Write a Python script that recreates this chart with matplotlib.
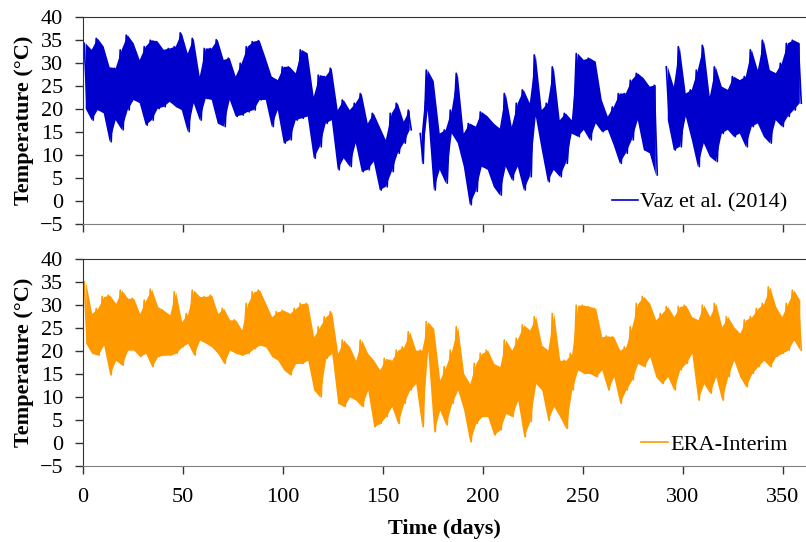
import numpy as np
import matplotlib
matplotlib.use('Agg')
import matplotlib.pyplot as plt

plt.rcParams['font.family'] = ['Liberation Serif', 'DejaVu Serif']

# blocos de 3 dias: maxima e minima (°C)
bloco_dias = 3

vaz_max = [34.2, 32.8, 35.3, 33.5, 29.0, 28.8, 32.8, 36.0, 34.2, 30.6,
           33.5, 34.9, 34.6, 32.8, 33.1, 33.5, 36.5, 32.0, 35.3, 27.0,
           33.1, 33.1, 35.0, 30.6, 31.0, 27.0, 29.9, 33.5, 34.6, 34.8,
           31.0, 27.0, 26.2, 29.1, 29.1, 27.7, 32.8, 32.0, 22.6, 27.3,
           27.0, 28.8, 19.7, 21.9, 19.7, 21.2, 23.3, 16.8, 19.0, 16.1,
           13.2, 19.0, 21.2, 17.2, 19.7, np.nan, 14.6, 28.4, 26.0, 14.6,
           15.4, 19.7, 27.7, 14.6, 16.8, 16.1, 19.3, 18.3, 16.8, 15.7,
           23.3, 16.1, 21.2, 24.1, 21.2, 31.7, 19.7, 21.2, 29.1, 17.5,
           19.0, 17.5, 32.0, 30.6, 31.0, 30.2, 21.9, 18.3, 20.4, 23.3,
           23.3, 26.2, 27.7, 26.6, 24.8, 25.1, np.nan, 29.1, 24.8, 33.5,
           23.3, 24.1, 28.4, 33.8, 22.6, 29.1, 24.8, 24.1, 27.0, 26.2,
           27.0, 32.8, 28.4, 34.9, 28.4, 27.7, 29.9, 34.2, 34.9, 34.2]
vaz_min = [20.0, 17.5, 19.7, 19.0, 12.8, 17.5, 15.4, 19.7, 21.9, 21.2,
           16.4, 17.5, 20.0, 20.4, 21.5, 20.4, 19.7, 15.0, 21.2, 17.5,
           22.2, 21.9, 16.8, 16.1, 21.9, 18.3, 18.6, 19.3, 19.7, 21.9,
           21.9, 16.1, 19.7, 12.5, 13.2, 17.5, 17.9, 18.3, 9.2, 11.7,
           16.8, 17.5, 6.7, 9.2, 7.4, 12.5, 6.3, 6.7, 8.5, 2.3,
           3.0, 6.3, 10.3, 12.5, 15.4, np.nan, 8.1, 19.7, 2.3, 6.7,
           3.8, 14.6, 12.5, 7.4, -0.9, 2.0, 7.4, 6.7, 3.0, 1.2,
           7.4, 4.5, 7.4, 2.3, 5.2, 18.3, 11.0, 4.1, 6.7, 5.2,
           8.1, 14.6, 13.9, 15.4, 13.2, 16.8, 15.0, 15.4, 12.0, 8.1,
           10.3, 13.2, 17.5, 11.0, 10.3, 5.6, np.nan, 17.5, 11.0, 11.7,
           18.3, 13.2, 7.4, 12.5, 9.6, 8.5, 14.6, 15.4, 13.9, 14.6,
           11.7, 16.1, 16.8, 13.9, 12.5, 17.5, 16.1, 18.3, 19.7, 21.2]

era_max = [35.1, 28.2, 29.3, 31.9, 32.2, 30.4, 33.3, 31.5, 31.5, 28.2,
           31.1, 33.5, 29.7, 28.9, 27.9, 32.9, 26.4, 28.2, 33.3, 31.9,
           31.9, 32.2, 28.2, 29.3, 26.8, 26.8, 24.6, 30.4, 32.9, 33.3,
           30.4, 27.5, 28.6, 28.9, 28.2, 29.3, 30.4, 30.4, 23.1, 25.3,
           27.5, 28.6, 19.5, 22.4, 20.9, 18.0, 22.4, 19.5, 18.0, 15.9,
           18.4, 18.0, 20.2, 20.9, 24.2, 20.2, 20.2, 26.4, 24.9, 13.7,
           16.6, 20.2, 25.3, 15.1, 12.9, 17.3, 19.5, 20.2, 17.3, 16.6,
           22.4, 20.2, 22.8, 25.7, 24.6, 27.5, 21.3, 20.2, 28.2, 18.0,
           18.0, 19.5, 30.0, 30.0, 29.7, 29.3, 23.1, 23.3, 23.1, 20.2,
           20.9, 25.3, 30.4, 31.9, 30.4, 26.8, 28.2, 29.7, 27.5, 29.7,
           30.0, 27.5, 26.8, 30.0, 27.5, 30.4, 25.3, 27.5, 25.3, 23.9,
           26.8, 27.5, 29.3, 30.4, 34.0, 29.7, 27.5, 30.4, 33.3, 31.1]
era_min = [21.7, 19.5, 19.1, 21.3, 14.8, 18.0, 16.9, 20.2, 20.2, 18.8,
           19.5, 16.6, 18.8, 19.1, 19.1, 19.5, 20.9, 21.7, 19.1, 22.4,
           21.7, 20.9, 19.5, 17.3, 20.2, 19.5, 19.1, 19.5, 20.5, 21.3,
           20.9, 18.8, 18.0, 15.9, 14.8, 17.3, 17.3, 18.0, 11.5, 10.0,
           18.4, 19.5, 8.6, 7.9, 10.0, 9.3, 7.9, 11.5, 3.5, 4.2,
           5.7, 7.9, 4.2, 8.6, 11.5, 12.9, 3.5, 20.2, 2.4, 7.1,
           3.9, 8.6, 11.5, 7.1, 0.2, 4.2, 5.7, 5.7, 1.7, 2.8,
           6.4, 5.7, 9.3, 1.3, 4.6, 12.9, 11.5, 4.9, 7.9, 5.7,
           3.1, 11.5, 15.9, 15.1, 15.1, 14.4, 15.9, 11.5, 14.4, 8.6,
           11.5, 13.7, 17.3, 16.6, 18.8, 14.4, 12.9, 14.4, 11.5, 15.9,
           17.3, 19.5, 9.3, 12.9, 10.8, 14.4, 9.3, 14.4, 18.0, 14.4,
           12.2, 15.1, 16.6, 18.0, 16.6, 18.8, 19.5, 20.2, 22.4, 20.2]

y_ticks = [-5, 0, 5, 10, 15, 20, 25, 30, 35, 40]
x_ticks = [0, 50, 100, 150, 200, 250, 300, 350]


def serie_zigzag(maximas, minimas):
    # alterna maxima / minima dentro de cada bloco
    t = []
    v = []
    for k in range(len(maximas)):
        t.append(k * bloco_dias + 0.75)
        v.append(maximas[k])
        t.append(k * bloco_dias + 2.25)
        v.append(minimas[k])
    return np.array(t), np.array(v)


def desenha(ax, maximas, minimas, cor, nome):
    mx = np.array(maximas)
    mn = np.array(minimas)
    tc = np.arange(len(mx)) * bloco_dias + bloco_dias / 2
    ok = ~np.isnan(mx)
    ax.fill_between(tc, mn, mx, where=ok, color=cor, lw=0, interpolate=False)
    t, v = serie_zigzag(maximas, minimas)
    ax.plot(t, v, color=cor, lw=1.2, label=nome)


def formata_eixo(ax, rotulos_x):
    ax.set_xlim(0, 361.6)
    ax.set_ylim(-5, 40)
    ax.set_yticks(y_ticks)
    ax.set_xticks(x_ticks)
    ax.spines['right'].set_visible(False)
    ax.spines['left'].set_color('#333333')
    ax.spines['top'].set_color('#333333')
    ax.spines['bottom'].set_color('#808080')
    ax.tick_params(direction='out', length=6, width=1, labelsize=16, pad=8,
                   colors='#333333', labelcolor='black')
    ax.tick_params(axis='x', pad=10)
    if not rotulos_x:
        ax.set_xticklabels([])
    ax.set_ylabel('Temperature (°C)', fontsize=16, fontweight='bold', labelpad=4)


fig = plt.figure(figsize=(8.06, 5.42), dpi=100)
ax1 = fig.add_axes([0.1026, 0.5873, 0.8974, 0.3819])
ax2 = fig.add_axes([0.1026, 0.1408, 0.8974, 0.3808])

desenha(ax1, vaz_max, vaz_min, '#0000CC', 'Vaz et al. (2014)')
desenha(ax2, era_max, era_min, '#FF9900', 'ERA-Interim')

formata_eixo(ax1, False)
formata_eixo(ax2, True)
ax2.set_xlabel('Time (days)', fontsize=16, fontweight='bold', labelpad=9)

for ax in (ax1, ax2):
    ax.legend(loc='lower right', frameon=False, fontsize=16, handlelength=1.2,
              handletextpad=0.1, borderaxespad=0.1, bbox_to_anchor=(0.99, 0.0))

fig.savefig('out.png', dpi=100)
